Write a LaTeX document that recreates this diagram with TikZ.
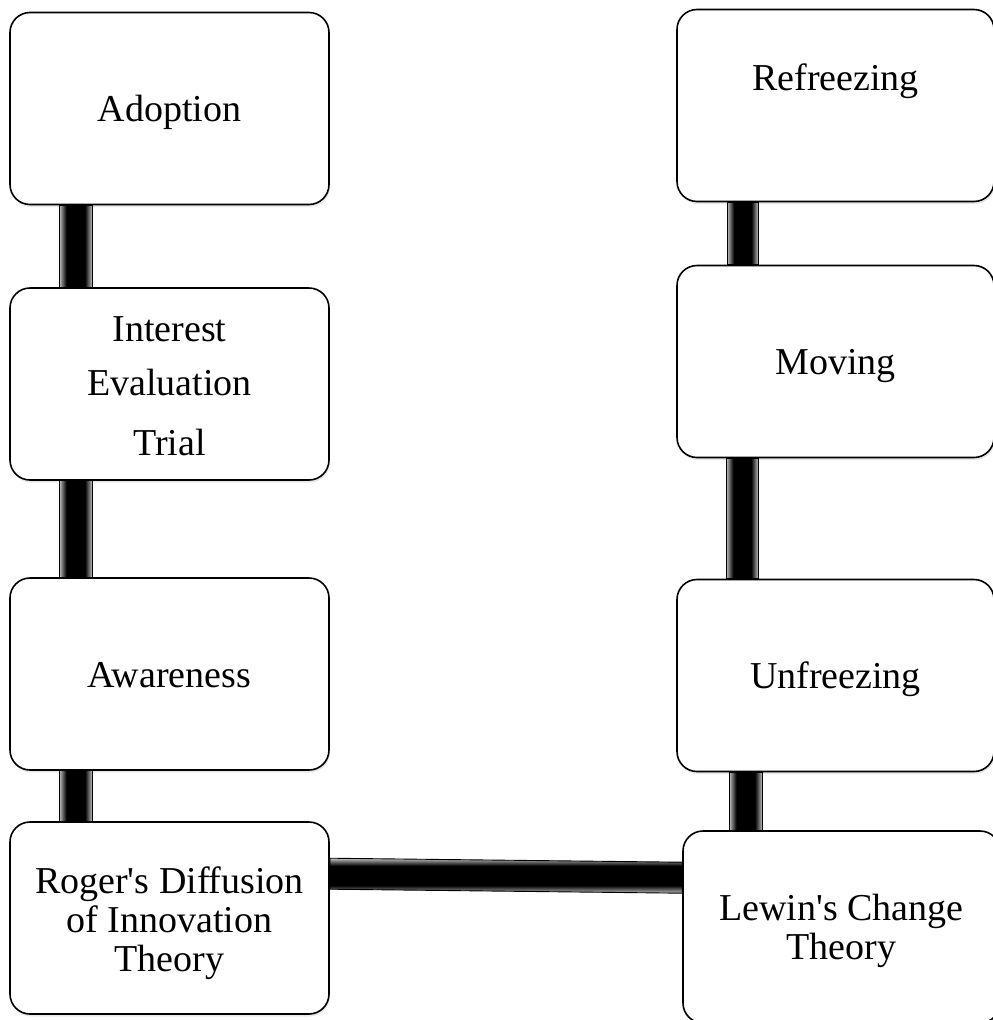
\documentclass[tikz,border=0pt]{standalone}
\usepackage{fontspec}
\setmainfont{Liberation Serif}
\usetikzlibrary{calc,shadows}
\pgfdeclarehorizontalshading{barh}{100bp}{color(0bp)=(black!25); color(25bp)=(black!25); color(36bp)=(black); color(64bp)=(black); color(75bp)=(black!25); color(100bp)=(black!25)}
\pgfdeclareverticalshading{barv}{100bp}{color(0bp)=(black!25); color(25bp)=(black!25); color(36bp)=(black); color(64bp)=(black); color(75bp)=(black!25); color(100bp)=(black!25)}
\newcommand{\tstrut}[1]{\rule{0pt}{#1pt}}
\newcommand{\dstrut}[1]{\rule[-#1pt]{0pt}{#1pt}}
\begin{document}
\begin{tikzpicture}[x=1pt,y=-1pt,
  box/.style={draw=black, line width=1.6pt, rounded corners=20pt, fill=white,
    minimum width=319pt, minimum height=192pt, inner sep=0pt, align=center,
    font=\fontsize{38}{39}\selectfont,
    drop shadow={shadow xshift=1pt, shadow yshift=-2.5pt, opacity=0.18}},
  rbox/.style={box, minimum width=317pt},
  vbar/.style={shade, shading=barh, draw=black, line width=0.9pt},
  hbar/.style={shade, shading=barv, draw=black, line width=0.9pt}]
\useasboundingbox (0,0) rectangle (993,1020);
\clip (0,0) rectangle (993,1020);
% left column
\node[box] (adoption) at (169.5,108.5) {\tstrut{36}Adoption\dstrut{10}};
\node[box] (interest) at (169.5,384) {\tstrut{38}Interest\\[15pt]Evaluation\\[21pt]Trial\dstrut{10}};
\node[box] (awareness) at (169.5,674) {\tstrut{36}Awareness\dstrut{10}};
\node[box] (roger) at (169.5,918) {\tstrut{38}Roger\textquotesingle s Diffusion\\of Innovation\\Theory\dstrut{10}};
% right column
\node[rbox] (refreezing) at (835.5,105.5) {\tstrut{30}Refreezing\dstrut{61}};
\node[rbox] (moving) at (835.5,361.5) {\tstrut{36}Moving\dstrut{10}};
\node[rbox] (unfreezing) at (835.5,675.5) {\tstrut{36}Unfreezing\dstrut{10}};
\node[rbox] (lewin) at (841.5,927) {\tstrut{35}Lewin\textquotesingle s Change\\Theory\dstrut{10}};
% connectors
\path[vbar] ($(adoption.south west)+(50,0)$) rectangle ($(interest.north west)+(83,0)$);
\path[vbar] ($(interest.south west)+(50,0)$) rectangle ($(awareness.north west)+(83,0)$);
\path[vbar] ($(awareness.south west)+(50,0)$) rectangle ($(roger.north west)+(83,0)$);
\path[vbar] ($(refreezing.south west)+(51,0)$) rectangle ($(moving.north west)+(82,0)$);
\path[vbar] ($(moving.south west)+(50,0)$) rectangle ($(unfreezing.north west)+(82,0)$);
\path[vbar] ($(unfreezing.south west)+(53,0)$) rectangle ($(lewin.north west)+(80,0)$);
\path[hbar] ($(roger.north east)+(0,37)$) -- ($(lewin.north west)+(0,32)$)
  -- ($(lewin.north west)+(0,63)$) -- ($(roger.north east)+(0,68)$) -- cycle;
\end{tikzpicture}
\end{document}
